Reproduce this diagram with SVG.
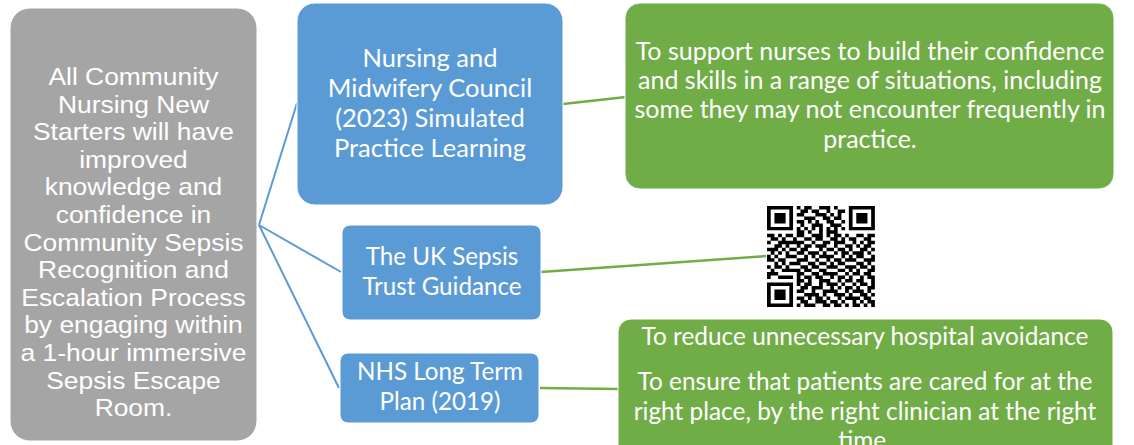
<svg xmlns="http://www.w3.org/2000/svg" width="1134" height="445" viewBox="0 0 1134 445">
<style>
.gray{fill:#a5a5a5;stroke:#ffffff;stroke-width:1}
.blue{fill:#5b9bd5;stroke:#ffffff;stroke-width:1}
.green{fill:#70ad47;stroke:#ffffff;stroke-width:1}
.ta{font-family:"Liberation Sans",Arial,sans-serif;font-size:24px;fill:#ffffff;text-anchor:middle}
.tc{font-family:Lato,"Open Sans",sans-serif;font-size:24.2px;fill:#ffffff;text-anchor:middle}
.tb1{font-size:25.5px}
.tg1{font-size:25px}
.tg2{font-size:24.4px}
.cb{stroke:#5b9bd5;stroke-width:2;fill:none}
.cg{stroke:#70ad47;stroke-width:2.5;fill:none}
</style>
<rect width="1134" height="445" fill="#ffffff"/>
<g id="connectors">
<line class="cb" x1="259" y1="225" x2="297" y2="103"/>
<line class="cb" x1="259" y1="225" x2="341" y2="272"/>
<line class="cb" x1="259" y1="225" x2="339" y2="388"/>
<line class="cg" x1="563" y1="104" x2="626" y2="97"/>
<line class="cg" x1="541" y1="272" x2="766" y2="256"/>
<line class="cg" x1="540" y1="388" x2="618" y2="389"/>
</g>
<g id="goal">
<rect class="gray" x="10" y="8" width="247" height="433" rx="20"/>
<g transform="translate(133.5,0) scale(1.1,1) translate(-133.5,0)">
<text class="ta" x="133.5" y="85">All Community</text>
<text class="ta" x="133.5" y="112.6">Nursing New</text>
<text class="ta" x="133.5" y="140.2">Starters will have</text>
<text class="ta" x="133.5" y="167.8">improved</text>
<text class="ta" x="133.5" y="195.4">knowledge and</text>
<text class="ta" x="133.5" y="223">confidence in</text>
<text class="ta" x="133.5" y="250.6">Community Sepsis</text>
<text class="ta" x="133.5" y="278.2">Recognition and</text>
<text class="ta" x="133.5" y="305.8">Escalation Process</text>
<text class="ta" x="133.5" y="333.4">by engaging within</text>
<text class="ta" x="133.5" y="361">a 1-hour immersive</text>
<text class="ta" x="133.5" y="388.6">Sepsis Escape</text>
<text class="ta" x="133.5" y="416.2">Room.</text>
</g>
</g>
<g id="nmc">
<rect class="blue" x="297" y="3" width="266" height="202" rx="18"/>
<text class="tc tb1" x="430" y="67">Nursing and</text>
<text class="tc tb1" x="430" y="97">Midwifery Council</text>
<text class="tc tb1" x="430" y="127">(2023) Simulated</text>
<text class="tc tb1" x="430" y="157">Practice Learning</text>
</g>
<g id="nmc-aim">
<rect class="green" x="625" y="3" width="489" height="186" rx="15"/>
<text class="tc tg1" x="870" y="60">To support nurses to build their confidence</text>
<text class="tc tg1" x="870" y="89">and skills in a range of situations, including</text>
<text class="tc tg1" x="870" y="118">some they may not encounter frequently in</text>
<text class="tc tg1" x="870" y="148">practice.</text>
</g>
<g id="sepsis-trust">
<rect class="blue" x="342" y="225" width="199" height="95" rx="8"/>
<text class="tc" x="442" y="265">The UK Sepsis</text>
<text class="tc" x="442" y="295">Trust Guidance</text>
</g>
<g id="qr">
<g transform="translate(767,206) scale(3.72,3.48)" fill="#000000">
<path fill-rule="evenodd" d="M0 0h7v7h-7zM1 1v5h5v-5zM22 0h7v7h-7zM23 1v5h5v-5zM0 22h7v7h-7zM1 23v5h5v-5z"/>
<path d="M2 2h3v3h-3zM24 2h3v3h-3zM2 24h3v3h-3z"/>
<path d="M8 0h1v1h-1zM10 0h2v1h-2zM14 0h3v1h-3zM18 0h1v1h-1z
M9 1h2v1h-2zM12 1h2v1h-2zM16 1h1v1h-1zM19 1h2v1h-2z
M8 2h2v1h-2zM13 2h3v1h-3zM17 2h1v1h-1zM19 2h1v1h-1z
M10 3h3v1h-3zM15 3h2v1h-2zM18 3h2v1h-2z
M8 4h2v1h-2zM11 4h1v1h-1zM13 4h1v1h-1zM16 4h2v1h-2zM20 4h1v1h-1z
M9 5h1v1h-1zM12 5h3v1h-3zM17 5h3v1h-3z
M8 6h1v1h-1zM10 6h1v1h-1zM12 6h1v1h-1zM14 6h1v1h-1zM16 6h1v1h-1zM18 6h1v1h-1zM20 6h1v1h-1z
M8 7h2v1h-2zM11 7h1v1h-1zM14 7h1v1h-1zM16 7h3v1h-3z
M0 8h2v1h-2zM3 8h1v1h-1zM5 8h2v1h-2zM8 8h2v1h-2zM12 8h3v1h-3zM16 8h1v1h-1zM18 8h2v1h-2zM21 8h1v1h-1zM24 8h2v1h-2zM27 8h2v1h-2z
M1 9h2v1h-2zM4 9h1v1h-1zM7 9h1v1h-1zM10 9h2v1h-2zM13 9h2v1h-2zM17 9h2v1h-2zM20 9h1v1h-1zM22 9h2v1h-2zM26 9h2v1h-2z
M0 10h1v1h-1zM3 10h7v1h-7zM12 10h1v1h-1zM15 10h2v1h-2zM18 10h3v1h-3zM23 10h1v1h-1zM25 10h1v1h-1zM27 10h2v1h-2z
M2 11h2v1h-2zM5 11h1v1h-1zM8 11h1v1h-1zM10 11h2v1h-2zM13 11h3v1h-3zM18 11h1v1h-1zM21 11h2v1h-2zM24 11h1v1h-1zM26 11h2v1h-2z
M0 12h3v1h-3zM4 12h1v1h-1zM6 12h2v1h-2zM9 12h2v1h-2zM14 12h1v1h-1zM16 12h2v1h-2zM19 12h2v1h-2zM22 12h1v1h-1zM25 12h2v1h-2zM28 12h1v1h-1z
M1 13h1v1h-1zM3 13h1v1h-1zM5 13h1v1h-1zM8 13h2v1h-2zM11 13h3v1h-3zM15 13h1v1h-1zM18 13h1v1h-1zM20 13h2v1h-2zM23 13h3v1h-3zM27 13h1v1h-1z
M0 14h1v1h-1zM2 14h1v1h-1zM5 14h3v1h-3zM10 14h1v1h-1zM12 14h1v1h-1zM14 14h4v1h-4zM20 14h1v1h-1zM22 14h1v1h-1zM24 14h2v1h-2zM28 14h1v1h-1z
M0 15h2v1h-2zM3 15h2v1h-2zM8 15h3v1h-3zM13 15h1v1h-1zM16 15h1v1h-1zM18 15h2v1h-2zM21 15h3v1h-3zM26 15h3v1h-3z
M2 16h1v1h-1zM4 16h1v1h-1zM6 16h3v1h-3zM11 16h2v1h-2zM14 16h2v1h-2zM17 16h1v1h-1zM19 16h2v1h-2zM24 16h2v1h-2zM27 16h1v1h-1z
M0 17h1v1h-1zM2 17h2v1h-2zM5 17h1v1h-1zM9 17h2v1h-2zM12 17h2v1h-2zM16 17h3v1h-3zM21 17h3v1h-3zM25 17h2v1h-2zM28 17h1v1h-1z
M1 18h1v1h-1zM4 18h5v1h-5zM10 18h2v1h-2zM14 18h2v1h-2zM19 18h2v1h-2zM22 18h1v1h-1zM24 18h1v1h-1zM27 18h2v1h-2z
M0 19h3v1h-3zM8 19h2v1h-2zM12 19h2v1h-2zM15 19h4v1h-4zM21 19h1v1h-1zM23 19h2v1h-2zM26 19h2v1h-2z
M0 20h1v1h-1zM3 20h4v1h-4zM8 20h1v1h-1zM10 20h2v1h-2zM13 20h2v1h-2zM17 20h1v1h-1zM19 20h2v1h-2zM22 20h1v1h-1zM25 20h1v1h-1zM27 20h2v1h-2z
M8 21h2v1h-2zM11 21h1v1h-1zM14 21h3v1h-3zM19 21h1v1h-1zM21 21h2v1h-2zM24 21h2v1h-2zM28 21h1v1h-1z
M8 22h1v1h-1zM10 22h2v1h-2zM14 22h1v1h-1zM16 22h3v1h-3zM20 22h1v1h-1zM23 22h1v1h-1zM25 22h2v1h-2zM28 22h1v1h-1z
M9 23h2v1h-2zM12 23h3v1h-3zM17 23h1v1h-1zM19 23h1v1h-1zM21 23h2v1h-2zM24 23h1v1h-1zM27 23h2v1h-2z
M8 24h2v1h-2zM12 24h1v1h-1zM15 24h4v1h-4zM21 24h1v1h-1zM23 24h3v1h-3zM27 24h1v1h-1z
M10 25h4v1h-4zM15 25h1v1h-1zM18 25h3v1h-3zM22 25h1v1h-1zM25 25h2v1h-2zM28 25h1v1h-1z
M8 26h2v1h-2zM11 26h1v1h-1zM13 26h2v1h-2zM16 26h1v1h-1zM19 26h1v1h-1zM21 26h4v1h-4zM26 26h2v1h-2z
M9 27h2v1h-2zM13 27h3v1h-3zM17 27h2v1h-2zM20 27h1v1h-1zM23 27h1v1h-1zM25 27h1v1h-1zM27 27h2v1h-2z
M8 28h1v1h-1zM10 28h3v1h-3zM15 28h2v1h-2zM18 28h2v1h-2zM21 28h1v1h-1zM23 28h2v1h-2zM26 28h1v1h-1zM28 28h1v1h-1z"/>
</g>
</g>
<g id="nhs-plan">
<rect class="blue" x="340" y="353" width="199" height="70" rx="8"/>
<text class="tc" x="440" y="380">NHS Long Term</text>
<text class="tc" x="440" y="410">Plan (2019)</text>
</g>
<g id="nhs-aims">
<rect class="green" x="618" y="319" width="495" height="150" rx="13"/>
<text class="tc tg2" x="865" y="345">To reduce unnecessary hospital avoidance</text>
<text class="tc tg2" x="865" y="390">To ensure that patients are cared for at the</text>
<text class="tc tg2" x="865" y="420">right place, by the right clinician at the right</text>
<text class="tc tg2" x="865" y="449">time.</text>
</g>
</svg>
